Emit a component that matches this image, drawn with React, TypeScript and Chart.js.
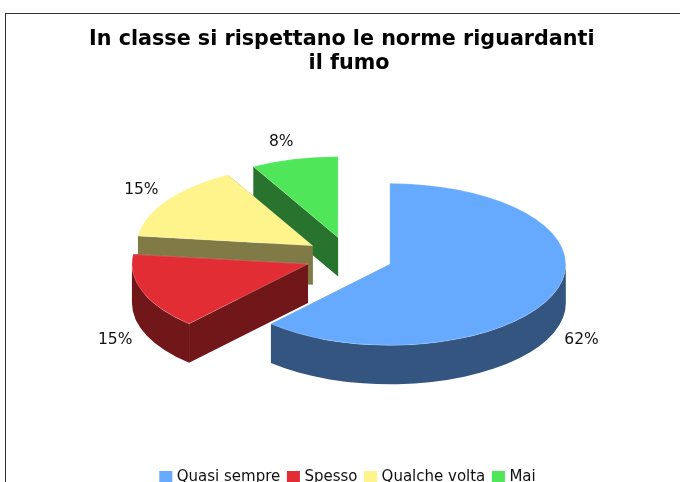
import React, { useEffect, useRef } from "react";
import { Chart, registerables } from "chart.js";

Chart.register(...registerables);

const categories = ["Quasi sempre", "Spesso", "Qualche volta", "Mai"];
const shares = [61.8, 15.1, 15.1, 8];
const topColors = ["#66AAFF", "#E12D33", "#FFF48C", "#50E65A"];
const wallColors = ["#33557F", "#71171A", "#807A46", "#28732D"];
const titleLines = ["In classe si rispettano le norme riguardanti  ", "il fumo"];

const FONT = "'DejaVu Sans', Verdana, sans-serif";
const TILT = 0.46;
const DEPTH = 39;
const EXPLODE = 43.8;
const RADIUS = 176;
const PAINT_ORDER = [3, 2, 1, 0];

const pie3d = {
  id: "pie3d",
  beforeDatasetDraw(chart: any, args: any) {
    const ctx = chart.ctx;
    const arcs = args.meta.data;
    PAINT_ORDER.forEach((i) => {
      const arc = arcs[i];
      const { x, y, startAngle: s, endAngle: e, outerRadius: R } = arc.getProps(["x", "y", "startAngle", "endAngle", "outerRadius"], true);
      const mid = (s + e) / 2;
      const ax = x + Math.cos(mid) * EXPLODE;
      const ay = y + Math.sin(mid) * EXPLODE * TILT;
      const px = (t: number) => ax + R * Math.cos(t);
      const py = (t: number) => ay + R * TILT * Math.sin(t);
      ctx.save();
      ctx.fillStyle = wallColors[i];
      [s, e].forEach((t) => {
        ctx.beginPath();
        ctx.moveTo(ax, ay);
        ctx.lineTo(px(t), py(t));
        ctx.lineTo(px(t), py(t) + DEPTH);
        ctx.lineTo(ax, ay + DEPTH);
        ctx.closePath();
        ctx.fill();
      });
      const t0 = Math.max(s, 0);
      const t1 = Math.min(e, Math.PI);
      if (t1 > t0) {
        ctx.beginPath();
        ctx.ellipse(ax, ay, R, R * TILT, 0, t0, t1);
        ctx.lineTo(px(t1), py(t1) + DEPTH);
        ctx.ellipse(ax, ay + DEPTH, R, R * TILT, 0, t1, t0, true);
        ctx.closePath();
        ctx.fill();
      }
      ctx.fillStyle = topColors[i];
      ctx.beginPath();
      ctx.moveTo(ax, ay);
      ctx.ellipse(ax, ay, R, R * TILT, 0, s, e);
      ctx.closePath();
      ctx.fill();
      ctx.strokeStyle = "rgba(255,255,255,0.3)";
      ctx.lineWidth = 0.7;
      ctx.stroke();
      ctx.restore();
    });
    ctx.save();
    ctx.font = `15.5px ${FONT}`;
    ctx.fillStyle = "#111";
    ctx.textAlign = "center";
    ctx.textBaseline = "middle";
    PAINT_ORDER.forEach((i) => {
      const arc = arcs[i];
      const { x, y, startAngle: s, endAngle: e, outerRadius: R } = arc.getProps(["x", "y", "startAngle", "endAngle", "outerRadius"], true);
      const mid = (s + e) / 2;
      const c = Math.cos(mid);
      const n = Math.sin(mid);
      const ax = x + c * EXPLODE;
      const ay = y + n * EXPLODE * TILT;
      const text = `${Math.round(shares[i])}%`;
      const half = ctx.measureText(text).width / 2;
      const lx = ax + c * R + Math.sign(c) * (half + 12 * c * c);
      const ly = n > 0 ? y + R * TILT + 1.5 : ay + n * (R * TILT + 18);
      ctx.fillText(text, lx, ly);
    });
    ctx.restore();
    return false;
  },
};

export default function App() {
  const ref = useRef<HTMLCanvasElement>(null);
  useEffect(() => {
    const chart = new Chart(ref.current!, {
      type: "pie",
      data: {
        labels: categories,
        datasets: [{ data: shares, backgroundColor: topColors, borderWidth: 0, radius: RADIUS }],
      },
      options: {
        responsive: false,
        animation: false,
        layout: { padding: { top: 28 } },
        plugins: {
          tooltip: { enabled: false },
          title: {
            display: true,
            text: titleLines,
            color: "#000",
            font: { family: FONT, size: 20.7, weight: "bold", lineHeight: 1.16 },
            padding: { top: 0, bottom: 7 },
          },
          legend: {
            position: "bottom",
            title: { display: true, text: " ", padding: { top: 15, bottom: 0 } },
            labels: {
              color: "#111",
              font: { family: FONT, size: 15 },
              boxWidth: 7,
              boxHeight: 7,
              padding: 9.6,
              generateLabels: () =>
                categories.map((text, i) => ({
                  text,
                  fillStyle: topColors[i],
                  strokeStyle: topColors[i],
                  lineWidth: 6,
                  hidden: false,
                  index: i,
                  fontColor: "#111",
                })),
            },
          },
        },
      },
      plugins: [pie3d],
    } as any);
    return () => chart.destroy();
  }, []);
  return (
    <div style={{ position: "fixed", left: 0, top: 0, width: 680, height: 482, overflow: "hidden", background: "#fff" }}>
      <canvas ref={ref} width={698} height={495} style={{ position: "absolute", left: 0, top: 0, width: 698, height: 495 }} />
      <div style={{ position: "absolute", left: 5, top: 13, width: 900, height: 900, border: "1px solid #333" }} />
    </div>
  );
}
